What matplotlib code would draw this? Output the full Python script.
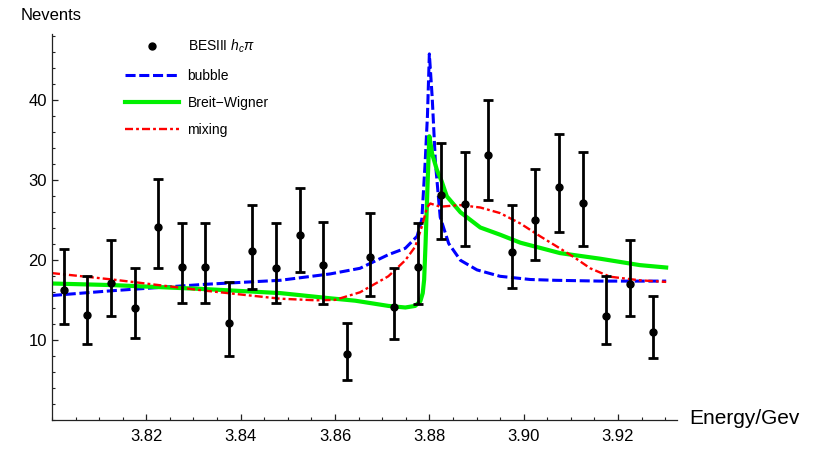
import numpy as np
import matplotlib
matplotlib.use("Agg")
import matplotlib.pyplot as plt
from matplotlib.lines import Line2D
from matplotlib.ticker import MultipleLocator, FormatStrFormatter

plt.rcParams['font.family'] = ['Liberation Sans', 'DejaVu Sans']
plt.rcParams['mathtext.fontset'] = 'custom'
plt.rcParams['mathtext.rm'] = 'Liberation Sans'
plt.rcParams['mathtext.it'] = 'Liberation Sans:italic'

# BESIII h_c pi event counts (bin centres, values, error bar ends)
energy = [3.8025, 3.8075, 3.8125, 3.8175, 3.8225, 3.8275, 3.8325, 3.8375, 3.8425,
          3.8475, 3.8525, 3.8575, 3.8625, 3.8675, 3.8725, 3.8775, 3.8825, 3.8875,
          3.8925, 3.8975, 3.9025, 3.9075, 3.9125, 3.9175, 3.9225, 3.9275]
events = [16.2, 13.1, 17.1, 14.0, 24.1, 19.1, 19.1, 12.1, 21.1, 19.0, 23.1, 19.3, 8.2,
          20.3, 14.1, 19.1, 28.1, 26.9, 33.1, 21.0, 25.0, 29.1, 27.1, 13.0, 17.0, 11.0]
err_hi = [21.3, 17.9, 22.4, 19.0, 30.1, 24.6, 24.6, 17.2, 26.8, 24.6, 28.9, 24.7, 12.1,
          25.8, 19.0, 24.6, 34.6, 33.4, 40.0, 26.8, 31.3, 35.7, 33.4, 17.9, 22.4, 15.5]
err_lo = [11.9, 9.5, 12.9, 10.2, 19.0, 14.6, 14.6, 8.0, 16.3, 14.6, 18.4, 14.5, 5.0,
          15.5, 10.1, 14.5, 22.6, 21.7, 27.4, 16.4, 20.0, 23.5, 21.7, 9.5, 12.9, 7.7]

# model curves
bubble_x = [3.8000, 3.8128, 3.8325, 3.8484, 3.8590, 3.8653, 3.8713, 3.8749, 3.8774,
            3.8784, 3.8791, 3.8796, 3.8800, 3.8806, 3.8813, 3.8823, 3.8841, 3.8866,
            3.8901, 3.8950, 3.9014, 3.9067, 3.9162, 3.9302]
bubble_y = [15.5, 16.1, 16.9, 17.4, 18.2, 18.9, 20.6, 21.4, 22.9, 25.0, 32.0, 38.0,
            45.7, 40.3, 32.0, 25.3, 22.0, 19.9, 18.7, 17.9, 17.5, 17.4, 17.3, 17.3]

bw_x = [3.8000, 3.8128, 3.8325, 3.8484, 3.8590, 3.8643, 3.8713, 3.8749, 3.8770,
        3.8781, 3.8786, 3.8789, 3.8792, 3.8796, 3.8800, 3.8806, 3.8816, 3.8826,
        3.8837, 3.8866, 3.8908, 3.8950, 3.8993, 3.9077, 3.9162, 3.9246, 3.9302]
bw_y = [17.0, 16.8, 16.3, 15.8, 15.15, 14.85, 14.2, 14.0, 14.2, 14.8, 15.8, 17.5, 22.0,
        29.0, 35.4, 33.2, 31.2, 29.8, 27.9, 25.9, 24.0, 23.1, 22.1, 20.8, 20.1, 19.3, 19.0]

mix_x = [3.8000, 3.8128, 3.8325, 3.8420, 3.8484, 3.8560, 3.8600, 3.8653, 3.8713,
         3.8749, 3.8770, 3.8784, 3.8795, 3.8802, 3.8823, 3.8865, 3.8908, 3.8950,
         3.8993, 3.9035, 3.9071, 3.9109, 3.9141, 3.9183, 3.9246, 3.9302]
mix_y = [18.3, 17.5, 16.1, 15.5, 15.1, 14.9, 14.95, 15.9, 17.9, 19.9, 21.6, 24.1,
         26.5, 27.0, 26.6, 26.8, 26.5, 25.8, 24.5, 22.9, 21.6, 20.2, 18.9, 17.85, 17.4, 17.2]

fig = plt.figure(figsize=(8.25, 4.49), dpi=100)
ax = fig.add_axes([0.0630, 0.0657, 0.7576, 0.8579])

ax.plot(bubble_x, bubble_y, color='#0000ff', lw=2.2, ls=(0, (3.3, 1.2)), zorder=2)
ax.plot(bw_x, bw_y, color='#00f000', lw=3.0, zorder=2, solid_joinstyle='round')
ax.plot(mix_x, mix_y, color='#ff0000', lw=1.7, ls=(0, (3.4, 1.3, 1.2, 1.3)), zorder=2)

ev = np.array(events)
yerr = [ev - np.array(err_lo), np.array(err_hi) - ev]
ax.errorbar(energy, events, yerr=yerr, fmt='o', color='black', ms=5,
            elinewidth=2.0, capsize=3.5, capthick=2.0, zorder=3)

ax.set_xlim(3.80, 3.9325)
ax.set_ylim(0, 48.15)

for side in ['top', 'right']:
    ax.spines[side].set_visible(False)
for side in ['left', 'bottom']:
    ax.spines[side].set_color('#222222')
    ax.spines[side].set_linewidth(0.9)

ax.xaxis.set_minor_locator(MultipleLocator(0.005))
ax.xaxis.set_major_formatter(FormatStrFormatter('%.2f'))
ax.set_xticks([3.82, 3.84, 3.86, 3.88, 3.90, 3.92])
ax.yaxis.set_minor_locator(MultipleLocator(2))
ax.set_yticks([10, 20, 30, 40])

ax.tick_params(axis='x', which='major', direction='in', length=4, width=0.9,
               labelsize=12, pad=7, color='#222222')
ax.tick_params(axis='y', which='major', direction='in', length=4.5, width=0.9,
               labelsize=12, pad=3.5, color='#222222')
ax.tick_params(which='minor', direction='in', length=2.5, width=0.8, color='#222222')

fig.text(21 / 825, 1 - 15 / 449, 'Nevents', ha='left', va='center', fontsize=12)
fig.text(689 / 825, 1 - 418 / 449, 'Energy/Gev', ha='left', va='center', fontsize=15)

handles = [
    Line2D([], [], ls='none', marker='o', color='black', ms=5),
    Line2D([], [], color='#0000ff', lw=2.2, ls=(0, (3.3, 1.2))),
    Line2D([], [], color='#00f000', lw=3.0),
    Line2D([], [], color='#ff0000', lw=1.7, ls=(0, (3.4, 1.3, 1.2, 1.3))),
]
labels = [r'BESIII $h_c\pi$', 'bubble', 'Breit\u2212Wigner', 'mixing']
ax.legend(handles, labels, loc='upper left', bbox_to_anchor=(125 / 825, 1 - 38 / 449),
          bbox_transform=fig.transFigure, frameon=False, fontsize=10,
          handlelength=3.9, handletextpad=0.6, labelspacing=0.95,
          borderpad=0, borderaxespad=0)

fig.savefig('out.png', dpi=100)
